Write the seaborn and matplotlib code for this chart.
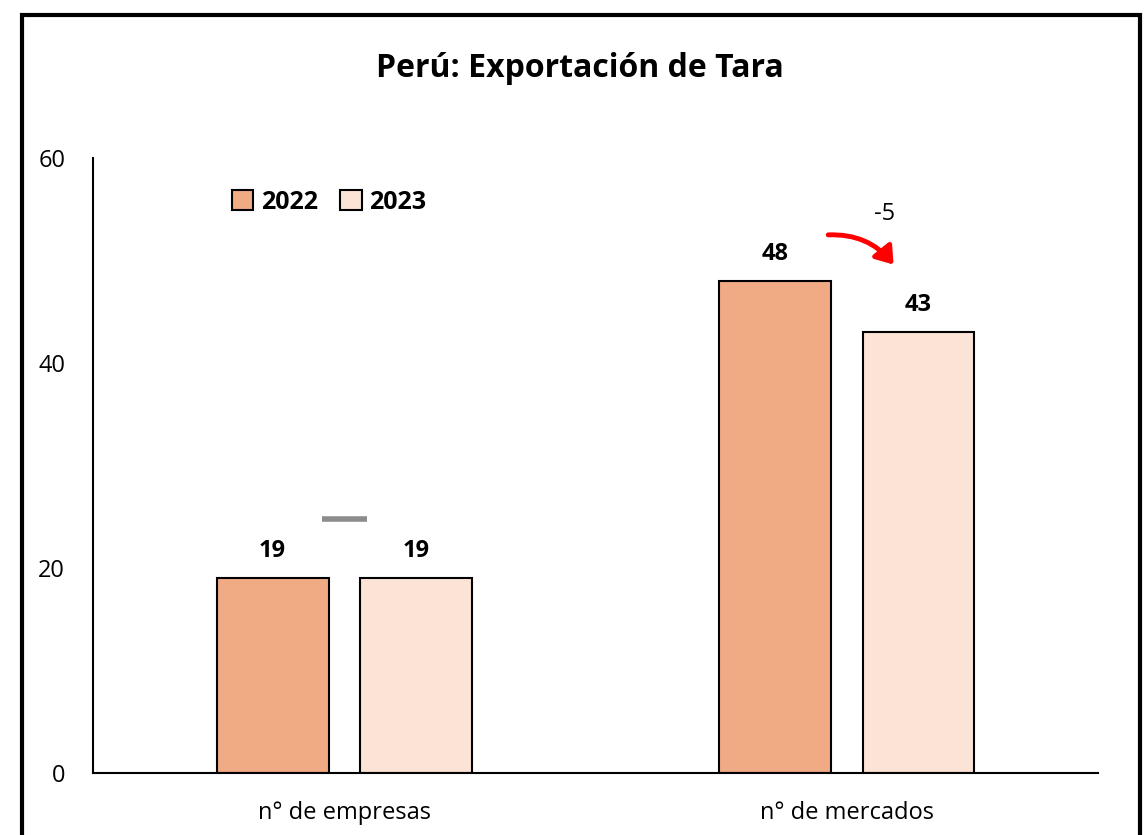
import matplotlib
matplotlib.use("Agg")
import matplotlib.pyplot as plt
import seaborn as sns
import pandas as pd
from matplotlib.patches import Rectangle, FancyArrowPatch

categories = ["n° de empresas", "n° de mercados"]
years = ["2022", "2023"]
values_2022 = [19, 48]
values_2023 = [19, 43]
change_labels = ["", "-5"]
colors = ["#F0AA84", "#FBE3D6"]

sns.set_theme(style="white")
plt.rcParams["font.family"] = ["Open Sans", "DejaVu Sans"]
plt.rcParams["text.color"] = "black"
plt.rcParams["axes.labelcolor"] = "black"

df = pd.DataFrame({
    "cat": categories * 2,
    "year": [years[0]] * 2 + [years[1]] * 2,
    "val": values_2022 + values_2023,
})

fig = plt.figure(figsize=(11.48, 8.35), dpi=100)
ax = fig.add_axes([0.081, 0.0743, 0.8755, 0.7365])
sns.barplot(data=df, x="cat", y="val", hue="year", palette=colors,
            width=0.57, gap=0.22, edgecolor="black", linewidth=1.5,
            saturation=1, ax=ax, errorbar=None)

ax.set_ylim(0, 60)
ax.set_yticks([0, 20, 40, 60])
ax.set_xlim(-0.5, 1.5)
ax.set_xlabel("")
ax.set_ylabel("")
for s in ["top", "right"]:
    ax.spines[s].set_visible(False)
for s in ["left", "bottom"]:
    ax.spines[s].set_color("black")
    ax.spines[s].set_linewidth(1.5)
ax.tick_params(axis="both", labelsize=17, length=0, colors="black")
ax.tick_params(axis="y", pad=20)
ax.tick_params(axis="x", pad=20)

for cont in ax.containers:
    ax.bar_label(cont, fmt="%d", padding=11, fontsize=17, fontweight="bold",
                 color="black")

# change markers
ax.plot([-0.045, 0.045], [24.8, 24.8], color="#8C8C8C", lw=4, solid_capstyle="butt")
ax.text(1.075, 54.5, change_labels[1], ha="center", va="center", fontsize=17,
        color="black")
arrow = FancyArrowPatch((0.963, 52.5), (1.093, 49.6),
                        connectionstyle="arc3,rad=-0.25",
                        arrowstyle="-|>,head_length=10,head_width=7",
                        color="#FF0000", lw=3.5, mutation_scale=1,
                        shrinkA=0, shrinkB=0)
ax.add_patch(arrow)

leg = ax.legend(loc="upper left", bbox_to_anchor=(0.116, 0.985), ncol=2,
                frameon=False, fontsize=18, handlelength=0.85, handleheight=0.85,
                columnspacing=0.9, handletextpad=0.3)
for t in leg.get_texts():
    t.set_fontweight("bold")
    t.set_color("black")
for h in leg.legend_handles:
    h.set_edgecolor("black")
    h.set_linewidth(1.5)

fig.text(0.505, 0.918, "Perú: Exportación de Tara", ha="center", va="center",
         fontsize=23, fontweight="bold", color="black")

fig.patches.append(Rectangle((22 / 1148, -0.02), (1140 - 22) / 1148, 1 - 15 / 835 + 0.02,
                             transform=fig.transFigure, fill=False,
                             edgecolor="black", lw=3))

fig.savefig("out.png", dpi=100)
